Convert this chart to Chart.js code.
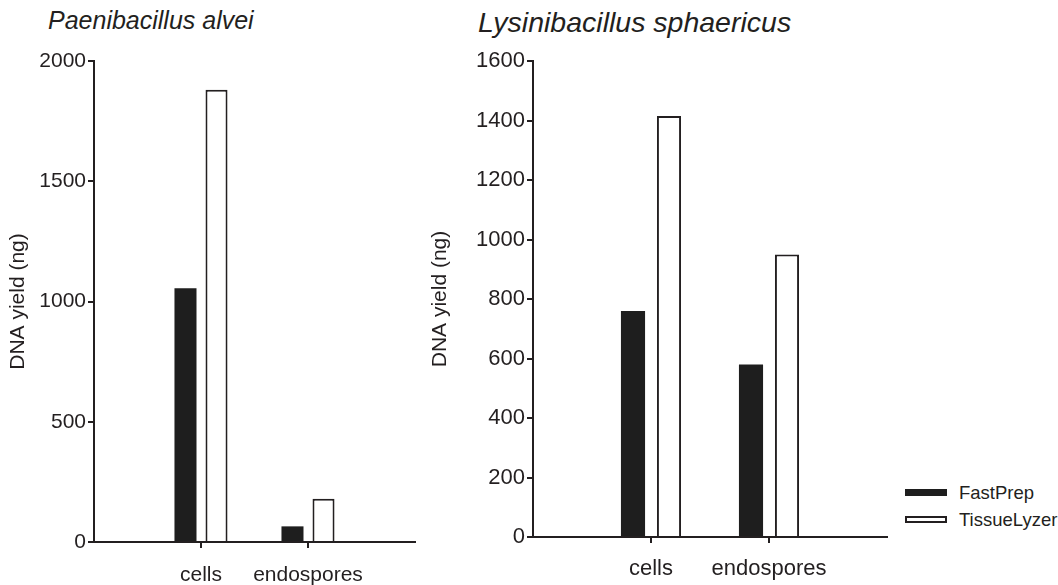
<!DOCTYPE html>
<html>
<head>
<meta charset="utf-8">
<script src="https://cdn.jsdelivr.net/npm/chart.js@4.4.1/dist/chart.umd.min.js"></script>
<style>
  html, body { margin: 0; padding: 0; background: #fff; }
  body { width: 1058px; height: 585px; position: relative; overflow: hidden;
         font-family: 'Liberation Sans', Arial, sans-serif; color: #231f20; }
  canvas { position: absolute; top: 0; }
  #alveiChart { left: 0; }
  #sphaericusChart { left: 420px; }
  .panel-title { position: absolute; font-style: italic; white-space: nowrap; }
  #alveiTitle { left: 48px; top: 5px; font-size: 25px; line-height: 30px; }
  #sphaericusTitle { left: 478px; top: 6px; font-size: 28.5px; line-height: 32px; }
  #legend { position: absolute; left: 905px; top: 479px; font-size: 18.5px; white-space: nowrap; }
  .legend-row { display: flex; align-items: center; height: 27px; }
  .legend-box { width: 42px; height: 7px; box-sizing: border-box; margin-right: 12px; }
</style>
</head>
<body>
<div class="panel-title" id="alveiTitle">Paenibacillus alvei</div>
<div class="panel-title" id="sphaericusTitle">Lysinibacillus sphaericus</div>
<canvas id="alveiChart" width="420" height="585"></canvas>
<canvas id="sphaericusChart" width="480" height="585"></canvas>
<div id="legend"></div>
<script>
// DNA yield per sample type and extraction method
const categories = ['cells', 'endospores'];
const seriesNames = ['FastPrep', 'TissueLyzer'];
const alveiFastPrep = [1055, 65];
const alveiTissueLyzer = [1880, 180];
const sphaericusFastPrep = [760, 580];
const sphaericusTissueLyzer = [1415, 950];

const ink = '#231f20';
const barBlack = '#1e1e1e';

// empty slots at both ends so the categories sit in from the axis ends
const paddedLabels = ['', ...categories, ''];
const pad = arr => [null, ...arr, null];

function buildChart(id, cfg) {
    const ctx = document.getElementById(id).getContext('2d');
    const lastIndex = paddedLabels.length - 1;
    return new Chart(ctx, {
        type: 'bar',
        data: {
            labels: paddedLabels,
            datasets: [{
                label: seriesNames[0],
                data: pad(cfg.fastPrep),
                backgroundColor: barBlack,
                borderWidth: 0,
                categoryPercentage: cfg.catPct,
                barPercentage: cfg.barPct
            }, {
                label: seriesNames[1],
                data: pad(cfg.tissueLyzer),
                backgroundColor: '#ffffff',
                borderColor: ink,
                borderWidth: 2,
                categoryPercentage: cfg.catPct,
                barPercentage: cfg.barPct
            }]
        },
        options: {
            responsive: false,
            animation: false,
            layout: { padding: { top: 61, right: cfg.padRight, left: 0, bottom: 0 } },
            plugins: {
                legend: { display: false },
                tooltip: { enabled: false }
            },
            scales: {
                x: {
                    offset: false,
                    afterFit: s => {
                        s.height = cfg.xHeight;
                        // end slots are empty, no room needed for labels there
                        s.paddingLeft = 0;
                        s.paddingRight = 0;
                    },
                    grid: {
                        offset: false,
                        drawOnChartArea: false,
                        tickLength: 6,
                        lineWidth: 2,
                        tickColor: c => (c.index === 0 || c.index === lastIndex) ? 'rgba(0,0,0,0)' : ink
                    },
                    border: { color: ink, width: 2 },
                    ticks: {
                        color: ink,
                        padding: cfg.xPad,
                        maxRotation: 0,
                        autoSkip: false,
                        font: { size: cfg.fontSize }
                    }
                },
                y: {
                    min: 0,
                    max: cfg.max,
                    afterFit: s => { s.width = cfg.yWidth; },
                    grid: {
                        drawOnChartArea: false,
                        tickLength: 6,
                        lineWidth: 2,
                        color: ink
                    },
                    border: { color: ink, width: 2 },
                    ticks: {
                        stepSize: cfg.step,
                        color: ink,
                        padding: 2,
                        font: { size: cfg.fontSize },
                        callback: v => String(v)
                    },
                    title: {
                        display: true,
                        text: 'DNA yield (ng)',
                        color: ink,
                        padding: { top: cfg.titlePad, bottom: 0 },
                        font: { size: 21 }
                    }
                }
            }
        }
    });
}

Chart.defaults.font.family = "'Liberation Sans', Arial, sans-serif";

buildChart('alveiChart', {
    fastPrep: alveiFastPrep,
    tissueLyzer: alveiTissueLyzer,
    max: 2000, step: 500,
    catPct: 0.58, barPct: 0.71,
    yWidth: 94, xHeight: 43, padRight: 5,
    fontSize: 21, titlePad: 6, xPad: 15
});

buildChart('sphaericusChart', {
    fastPrep: sphaericusFastPrep,
    tissueLyzer: sphaericusTissueLyzer,
    max: 1600, step: 200,
    catPct: 0.61, barPct: 0.67,
    yWidth: 113, xHeight: 48, padRight: 13,
    fontSize: 22, titlePad: 8, xPad: 13
});

// legend shared by both panels
const legend = document.getElementById('legend');
seriesNames.forEach((name, i) => {
    const row = document.createElement('div');
    row.className = 'legend-row';
    const box = document.createElement('span');
    box.className = 'legend-box';
    box.style.background = i === 0 ? barBlack : '#fff';
    box.style.border = i === 0 ? 'none' : '2px solid ' + ink;
    const label = document.createElement('span');
    label.textContent = name;
    row.appendChild(box);
    row.appendChild(label);
    legend.appendChild(row);
});
</script>
</body>
</html>
